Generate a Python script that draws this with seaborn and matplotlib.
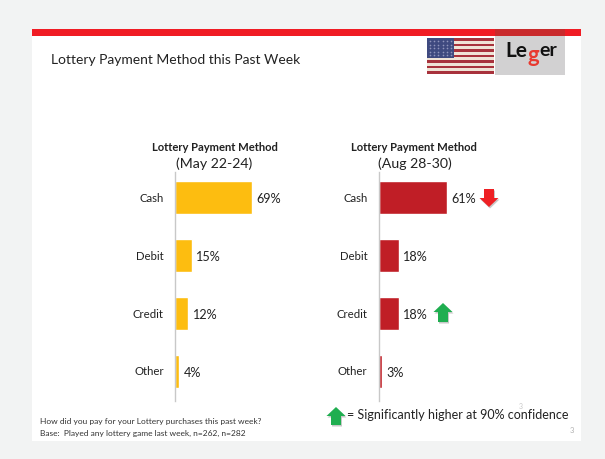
import matplotlib
matplotlib.use("Agg")
import matplotlib.pyplot as plt
from matplotlib.patches import Rectangle, Polygon
from matplotlib.transforms import ScaledTranslation
import pandas as pd
import seaborn as sns

categories = ["Cash", "Debit", "Credit", "Other"]
may_values = [69, 15, 12, 4]
aug_values = [61, 18, 18, 3]
chart_title = "Lottery Payment Method"
periods = ["(May 22-24)", "(Aug 28-30)"]
slide_title = "Lottery Payment Method this Past Week"
question = "How did you pay for your Lottery purchases this past week?"
base = "Base:  Played any lottery game last week, n=262, n=282"
legend_text = "= Significantly higher at 90% confidence"

sns.set_theme(style="white")
plt.rcParams["font.family"] = ["Lato", "DejaVu Sans"]
W, H = 605, 460
TXT = "#222222"
fig = plt.figure(figsize=(W / 100, H / 100), dpi=100, facecolor="#f2f3f3")

# full-figure pixel canvas for the slide furniture
bg = fig.add_axes([0, 0, 1, 1], zorder=0)
bg.set_xlim(0, W); bg.set_ylim(H, 0); bg.axis("off")
bg.add_patch(Rectangle((32, 30), 549, 412, fc="white", ec="none"))
bg.add_patch(Rectangle((32, 30), 549, 7, fc="#f01c24", ec="none"))
bg.text(51, 60.5, slide_title, fontsize=10.0, color=TXT, va="center", ha="left")
bg.text(39.5, 422, question, fontsize=6.0, color="#333333", va="center")
bg.text(39.5, 433, base, fontsize=6.0, color="#333333", va="center")
bg.text(347, 415, legend_text, fontsize=9.0, color=TXT, va="center")
bg.text(521, 407, "3", fontsize=5, color="#c8c8c8", ha="center", va="center")
bg.text(572, 431, "3", fontsize=5.5, color="#b0b0b0", ha="center", va="center")

# flag
fx, fy, fw, fh = 427, 39, 67, 36
stripes = ["#a8323c", "#efe3d6"]
for i in range(13):
    bg.add_patch(Rectangle((fx, fy + i * fh / 13), fw, fh / 13 + .2,
                           fc=stripes[i % 2], ec="none"))
bg.add_patch(Rectangle((fx, fy), 27, 20, fc="#3f4a80", ec="none"))
for r in range(5):
    for c in range(6):
        bg.plot(fx + 3 + c * 4.2, fy + 3 + r * 3.5, "o", ms=1.2, color="#8f94bc", mec="none")

# logo
bg.add_patch(Rectangle((495, 30), 70, 46, fc="#d2d1d2", ec="none"))
bg.add_patch(Rectangle((495, 30), 70, 7, fc="#c92a2c", ec="none"))
bg.text(505, 51, "Le", fontsize=15, fontweight="bold", color="#111111", va="center")
bg.text(533.5, 55, "g", fontsize=16, fontweight="bold", color="#e8392f", va="center", ha="center")
bg.text(539.5, 51, "er", fontsize=14, fontweight="bold", color="#111111", va="center")


def arrow(cx, tip, tail, up=True, color="#1fae50"):
    hw, sw = 9.5, 5
    d = 1 if up else -1
    neck = tip + d * 9
    pts = [(cx, tip), (cx + hw, neck), (cx + sw, neck), (cx + sw, tail),
           (cx - sw, tail), (cx - sw, neck), (cx - hw, neck)]
    bg.add_patch(Polygon([(x + 1, y + 1.5) for x, y in pts], fc="#9a9a9a", ec="none", alpha=.55))
    bg.add_patch(Polygon(pts, fc=color, ec="none"))


arrow(489, 208, 190, up=False, color="#ee2024")
arrow(443, 304, 323)
arrow(336, 408, 426)


def panel(x0, values, color, period, scale, cx_title, cx_period):
    top, bottom = 170, 401.5
    width = 160
    ax = fig.add_axes([x0 / W, 1 - bottom / H, width / W, (bottom - top) / H], zorder=2)
    ax.patch.set_alpha(0)
    df = pd.DataFrame({"category": categories, "value": values})
    sns.barplot(data=df, y="category", x="value", orient="h", color=color,
                width=0.57, saturation=1, ax=ax)
    ax.set_xlim(0, width / scale)
    ax.set_xlabel(""); ax.set_ylabel("")
    ax.set_xticks([])
    ax.tick_params(axis="y", length=0, pad=8, labelsize=8.2, labelcolor=TXT)
    shift = ScaledTranslation(0, 1.2 / 72, fig.dpi_scale_trans)
    for lab in ax.get_yticklabels():
        lab.set_transform(lab.get_transform() + shift)
    for s in ["top", "right", "bottom"]:
        ax.spines[s].set_visible(False)
    ax.spines["left"].set_color("#c8c8c8")
    ax.spines["left"].set_linewidth(1)
    ax.spines["left"].set_bounds(3.5, -0.45)
    for i, v in enumerate(values):
        ax.annotate(f"{v}%", (v, i), xytext=(3.2, -0.3), textcoords="offset points",
                    va="center", ha="left", fontsize=9.1, color=TXT)
    bg.text(cx_title, 148, chart_title, fontsize=8.15, fontweight="bold", color=TXT, ha="center", va="center")
    bg.text(cx_period, 164, period, fontsize=10.2, color=TXT, ha="center", va="center")


panel(175, may_values, "#fdbd10", periods[0], 77 / 69, 214.5, 214.5)
panel(378.5, aug_values, "#c01e26", periods[1], 68 / 61, 413.5, 415)

fig.savefig("out.png", dpi=100, facecolor=fig.get_facecolor())
